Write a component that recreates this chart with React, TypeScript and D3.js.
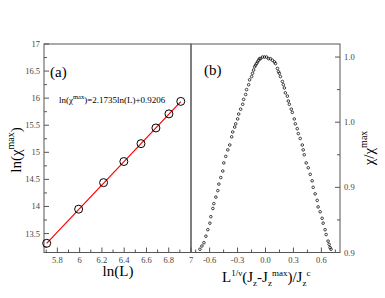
import React, { useRef, useEffect } from 'react';
import * as d3 from 'd3';

// panel (a): ln(L) vs ln(chi_max)
const lnL = [5.704, 5.991, 6.215, 6.397, 6.551, 6.685, 6.802, 6.908];
const lnChi = [13.32, 13.95, 14.44, 14.83, 15.16, 15.45, 15.71, 15.94];
const fitX = [5.704, 6.908];
const fitY = [13.318, 15.935];

const aXTicks = [5.8, 6.0, 6.2, 6.4, 6.6, 6.8, 7.0];
const aXTickLabels = ['5.8', '6', '6.2', '6.4', '6.6', '6.8', '7'];
const aXMinor = [5.7, 5.9, 6.1, 6.3, 6.5, 6.7, 6.9];
const aYTicks = [13.5, 14, 14.5, 15, 15.5, 16, 16.5, 17];
const aYTickLabels = ['13.5', '14', '14.5', '15', '15.5', '16', '16.5', '17'];
const aYMinor = [13.25, 13.75, 14.25, 14.75, 15.25, 15.75, 16.25, 16.75];

// panel (b): scaling collapse
const scaledX = [
  -0.704, -0.683, -0.661, -0.640, -0.619, -0.597, -0.587, -0.565, -0.555, -0.533,
  -0.512, -0.501, -0.480, -0.459, -0.448, -0.427, -0.405, -0.384, -0.363, -0.352,
  -0.331, -0.320, -0.299, -0.288, -0.267, -0.245, -0.235, -0.213, -0.203, -0.181,
  -0.171, -0.149, -0.139, -0.128, -0.117, -0.107, -0.096, -0.085, -0.075, -0.064,
  -0.053, -0.032, -0.011,
  0.011, 0.032, 0.053, 0.075, 0.096, 0.107, 0.128, 0.139, 0.149, 0.160,
  0.181, 0.192, 0.203, 0.213, 0.235, 0.245, 0.256, 0.277, 0.288, 0.309,
  0.320, 0.341, 0.352, 0.373, 0.395, 0.405, 0.416, 0.437, 0.459, 0.480,
  0.501, 0.512, 0.533, 0.555, 0.565, 0.587, 0.608, 0.619, 0.640, 0.651,
  0.672, 0.683, 0.693, 0.704
];
const chiRatio = [
  0.882, 0.884, 0.886, 0.890, 0.894, 0.898, 0.902, 0.907, 0.910, 0.914,
  0.918, 0.922, 0.926, 0.930, 0.935, 0.939, 0.943, 0.946, 0.951, 0.954,
  0.957, 0.959, 0.962, 0.965, 0.968, 0.971, 0.974, 0.977, 0.980, 0.983,
  0.986, 0.988, 0.990, 0.992, 0.994, 0.995, 0.996, 0.997, 0.998, 0.999,
  0.999, 1.000, 1.000,
  1.000, 0.999, 0.999, 0.998, 0.997, 0.996, 0.993, 0.991, 0.990, 0.988,
  0.985, 0.983, 0.981, 0.978, 0.976, 0.973, 0.971, 0.968, 0.966, 0.962,
  0.959, 0.956, 0.953, 0.950, 0.946, 0.943, 0.940, 0.935, 0.932, 0.928,
  0.924, 0.920, 0.916, 0.912, 0.908, 0.905, 0.901, 0.898, 0.894, 0.891,
  0.887, 0.885, 0.883, 0.882
];

const bXTicks = [-0.6, -0.3, 0, 0.3, 0.6];
const bXTickLabels = ['-0.6', '-0.3', '0.0', '0.3', '0.6'];
const bXMinor = [-0.75, -0.45, -0.15, 0.15, 0.45, 0.75];
const bYTicks = [1.0, 0.96, 0.92, 0.88];
const bYTickLabels = ['1.0', '1.0', '0.9', '0.9'];
const bYMinor = [0.98, 0.94, 0.90];

const FONT = '"Liberation Serif", "Times New Roman", serif';
const FRAME = '#555';

const App = () => {
  const ref = useRef<SVGSVGElement>(null);

  useEffect(() => {
    const svg = d3.select(ref.current);
    svg.selectAll('*').remove();

    const top = 44;
    const bottom = 252.5;

    // ---------- panel (a)
    const xA = d3.scaleLinear().domain([5.68, 7]).range([44, 191]);
    const yA = d3.scaleLinear().domain([13.15, 17]).range([bottom, top]);

    const gA = svg.append('g');
    gA.append('rect')
      .attr('x', 44).attr('y', top)
      .attr('width', 147).attr('height', bottom - top)
      .attr('fill', 'none').attr('stroke', FRAME).attr('stroke-width', 1);

    gA.selectAll('.xmaj').data(aXTicks).join('line')
      .attr('x1', d => xA(d)).attr('x2', d => xA(d))
      .attr('y1', bottom).attr('y2', bottom - 5)
      .attr('stroke', FRAME);
    gA.selectAll('.xmin').data(aXMinor).join('line')
      .attr('x1', d => xA(d)).attr('x2', d => xA(d))
      .attr('y1', bottom).attr('y2', bottom - 3)
      .attr('stroke', FRAME);
    gA.selectAll('.xlab').data(aXTicks).join('text')
      .attr('x', d => xA(d)).attr('y', bottom + 10)
      .attr('text-anchor', 'middle')
      .attr('font-family', FONT).attr('font-size', 8.5).attr('fill', '#444')
      .text((d, i) => aXTickLabels[i]);

    gA.selectAll('.ymaj').data(aYTicks).join('line')
      .attr('x1', 44).attr('x2', 49)
      .attr('y1', d => yA(d)).attr('y2', d => yA(d))
      .attr('stroke', FRAME);
    gA.selectAll('.ymin').data(aYMinor).join('line')
      .attr('x1', 44).attr('x2', 47)
      .attr('y1', d => yA(d)).attr('y2', d => yA(d))
      .attr('stroke', FRAME);
    gA.selectAll('.ylab').data(aYTicks).join('text')
      .attr('x', 40).attr('y', d => yA(d) + 3)
      .attr('text-anchor', 'end')
      .attr('font-family', FONT).attr('font-size', 8.5).attr('fill', '#444')
      .text((d, i) => aYTickLabels[i]);

    gA.append('path')
      .datum(fitX.map((x, i) => [x, fitY[i]]))
      .attr('d', d3.line<number[]>().x(d => xA(d[0])).y(d => yA(d[1])))
      .attr('stroke', '#ff0000').attr('stroke-width', 1.2).attr('fill', 'none');

    gA.selectAll('circle').data(lnL).join('circle')
      .attr('cx', d => xA(d)).attr('cy', (d, i) => yA(lnChi[i]))
      .attr('r', 4)
      .attr('fill', 'none').attr('stroke', '#000').attr('stroke-width', 1);

    gA.append('text')
      .attr('x', 50).attr('y', 77)
      .attr('font-family', FONT).attr('font-size', 15)
      .text('(a)');

    const eq = gA.append('text')
      .attr('x', 59).attr('y', 103)
      .attr('font-family', FONT).attr('font-size', 9);
    eq.append('tspan').text('ln(χ');
    eq.append('tspan').attr('font-size', 6.5).attr('dy', -4).text('max');
    eq.append('tspan').attr('dy', 4).text(')=2.1735ln(L)+0.9206');

    gA.append('text')
      .attr('x', 118).attr('y', 276)
      .attr('text-anchor', 'middle')
      .attr('font-family', FONT).attr('font-size', 15)
      .text('ln(L)');

    const yLabA = gA.append('text')
      .attr('transform', 'translate(21,150) rotate(-90)')
      .attr('text-anchor', 'middle')
      .attr('font-family', FONT).attr('font-size', 15);
    yLabA.append('tspan').text('ln(χ');
    yLabA.append('tspan').attr('font-size', 10).attr('dy', -7).text('max');
    yLabA.append('tspan').attr('dy', 7).text(')');

    // ---------- panel (b)
    const xB = d3.scaleLinear().domain([-0.8, 0.8]).range([191, 340]);
    const yB = d3.scaleLinear().domain([0.88, 1.008]).range([bottom, top]);

    const gB = svg.append('g');
    gB.append('rect')
      .attr('x', 191).attr('y', top)
      .attr('width', 149).attr('height', bottom - top)
      .attr('fill', 'none').attr('stroke', FRAME).attr('stroke-width', 1);

    gB.selectAll('.xmaj').data(bXTicks).join('line')
      .attr('x1', d => xB(d)).attr('x2', d => xB(d))
      .attr('y1', bottom).attr('y2', bottom - 5)
      .attr('stroke', FRAME);
    gB.selectAll('.xmin').data(bXMinor).join('line')
      .attr('x1', d => xB(d)).attr('x2', d => xB(d))
      .attr('y1', bottom).attr('y2', bottom - 3)
      .attr('stroke', FRAME);
    gB.selectAll('.xlab').data(bXTicks).join('text')
      .attr('x', d => xB(d)).attr('y', bottom + 10)
      .attr('text-anchor', 'middle')
      .attr('font-family', FONT).attr('font-size', 8.5).attr('fill', '#444')
      .text((d, i) => bXTickLabels[i]);

    gB.selectAll('.ymaj').data(bYTicks).join('line')
      .attr('x1', 340).attr('x2', 335)
      .attr('y1', d => yB(d)).attr('y2', d => yB(d))
      .attr('stroke', FRAME);
    gB.selectAll('.ymin').data(bYMinor).join('line')
      .attr('x1', 340).attr('x2', 337)
      .attr('y1', d => yB(d)).attr('y2', d => yB(d))
      .attr('stroke', FRAME);
    gB.selectAll('.ylab').data(bYTicks).join('text')
      .attr('x', 344).attr('y', d => yB(d) + 3)
      .attr('font-family', FONT).attr('font-size', 8.5).attr('fill', '#444')
      .text((d, i) => bYTickLabels[i]);

    gB.selectAll('circle').data(scaledX).join('circle')
      .attr('cx', d => xB(d)).attr('cy', (d, i) => yB(chiRatio[i]))
      .attr('r', 1.3)
      .attr('fill', 'none').attr('stroke', '#111').attr('stroke-width', 0.8);

    gB.append('text')
      .attr('x', 204).attr('y', 75)
      .attr('font-family', FONT).attr('font-size', 15)
      .text('(b)');

    const xLabB = gB.append('text')
      .attr('x', 222).attr('y', 282)
      .attr('font-family', FONT).attr('font-size', 15);
    xLabB.append('tspan').text('L');
    xLabB.append('tspan').attr('font-size', 9).attr('dy', -6).text('1/ν');
    xLabB.append('tspan').attr('dy', 6).text('(J');
    xLabB.append('tspan').attr('font-size', 9).attr('dy', 4).text('z');
    xLabB.append('tspan').attr('dy', -4).text('-J');
    xLabB.append('tspan').attr('font-size', 9).attr('dy', 4).text('z');
    xLabB.append('tspan').attr('font-size', 9).attr('dy', -10).text('max');
    xLabB.append('tspan').attr('dy', 6).text(')/J');
    xLabB.append('tspan').attr('font-size', 9).attr('dy', 4).text('z');
    xLabB.append('tspan').attr('font-size', 9).attr('dy', -10).text('c');

    const yLabB = gB.append('text')
      .attr('transform', 'translate(374,148) rotate(-90)')
      .attr('text-anchor', 'middle')
      .attr('font-family', FONT).attr('font-size', 15);
    yLabB.append('tspan').text('χ/χ');
    yLabB.append('tspan').attr('font-size', 10).attr('dy', -7).text('max');

    return () => {
      d3.select(ref.current).selectAll('*').remove();
    };
  }, []);

  return (
    <svg ref={ref} width={385} height={298}
      style={{ position: 'absolute', left: 0, top: 0, background: '#fff' }}></svg>
  );
};

export default App;
